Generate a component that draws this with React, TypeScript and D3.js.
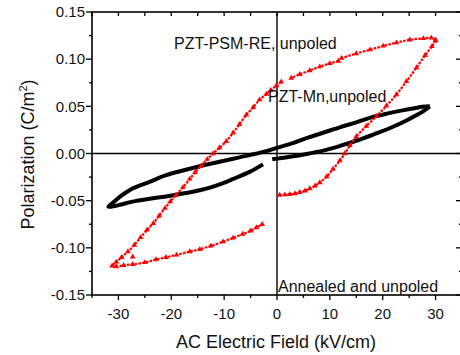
import React from 'react';
import * as d3 from 'd3';

type Pt = [number, number];

// PZT-PSM-RE (red triangles), segments as measured
const redRise: Pt[] = [
  [0.5, -0.044], [1.5, -0.0437], [2.4, -0.0432], [3.4, -0.0424], [4.3, -0.0412], [5.3, -0.0395],
  [6.2, -0.0372], [7.2, -0.0343], [8.1, -0.0308], [9.4, -0.0245], [10.6, -0.0165], [11.9, -0.0075],
  [12.8, 0.0], [13.8, 0.0085], [15.0, 0.018], [16.9, 0.029], [18.8, 0.0395], [20.7, 0.0505],
  [22.6, 0.0625], [24.5, 0.0765], [26.4, 0.091], [28.0, 0.104], [29.3, 0.1135], [30.0, 0.1195],
];
const redTopA: Pt[] = [
  [30.0, 0.1205], [29.2, 0.1225], [27.7, 0.122], [25.1, 0.1205], [22.6, 0.1175], [20.1, 0.114],
  [17.6, 0.110], [15.0, 0.106], [12.2, 0.101],
];
const redTopB: Pt[] = [
  [11.6, 0.098], [10.0, 0.0955], [8.1, 0.092], [6.2, 0.088], [4.3, 0.084], [2.7, 0.080],
];
const redFall: Pt[] = [
  [0.8, 0.076], [-0.1, 0.072], [-1.2, 0.067], [-2.0, 0.063], [-3.3, 0.057], [-4.5, 0.049],
  [-5.8, 0.041], [-7.1, 0.031], [-8.3, 0.022], [-9.6, 0.013], [-10.9, 0.006], [-12.1, 0.0],
  [-13.2, -0.006], [-14.3, -0.013], [-15.5, -0.020], [-16.5, -0.027], [-17.8, -0.036],
  [-19.1, -0.044], [-20.2, -0.051], [-21.2, -0.058], [-22.3, -0.066], [-23.4, -0.074],
  [-24.6, -0.081], [-25.8, -0.089], [-27.0, -0.097], [-28.2, -0.104], [-29.4, -0.110],
  [-30.4, -0.115], [-31.2, -0.119],
  [-30.4, -0.1198], [-29.0, -0.1185], [-27.3, -0.1175], [-25.0, -0.1155], [-22.9, -0.1125],
  [-21.0, -0.110], [-19.0, -0.1075], [-16.5, -0.104], [-14.6, -0.1015], [-12.5, -0.098],
  [-10.2, -0.0935], [-8.3, -0.0895], [-6.5, -0.0855], [-5.0, -0.082], [-3.9, -0.0785],
  [-2.8, -0.075],
];
const redStray: Pt[] = [[-27.3, -0.1095]];

// PZT-Mn (black squares)
const blackRise: Pt[] = [
  [-0.9, -0.0062], [0.5, -0.005], [2.4, -0.0035], [5.6, -0.0005], [8.7, 0.003], [11.9, 0.008],
  [15.0, 0.0135], [18.2, 0.020], [21.4, 0.027], [24.5, 0.035], [26.5, 0.041], [27.7, 0.045],
  [28.9, 0.050],
];
const blackReturn: Pt[] = [
  [28.9, 0.050], [27.5, 0.0495], [26.0, 0.048], [24.0, 0.046], [21.0, 0.0425], [18.0, 0.0385],
  [15.0, 0.033], [12.0, 0.028], [9.0, 0.0225], [6.0, 0.017], [3.0, 0.011], [0.0, 0.006],
  [-2.0, 0.0025], [-5.0, -0.0015], [-8.3, -0.0055], [-11.5, -0.0095], [-14.6, -0.0135],
  [-17.8, -0.018], [-21.0, -0.023], [-24.1, -0.030], [-27.3, -0.037], [-29.5, -0.045],
  [-31.0, -0.052], [-31.9, -0.0565],
  [-31.0, -0.056], [-29.8, -0.0545], [-27.3, -0.051], [-24.1, -0.048], [-21.0, -0.0455],
  [-17.8, -0.0425], [-14.6, -0.039], [-11.5, -0.034], [-8.3, -0.027], [-5.2, -0.0195],
  [-2.65, -0.0115],
];

const xTickLabels = [-30, -20, -10, 0, 10, 20, 30];
const xMinorTicks = [-35, -25, -15, -5, 5, 15, 25, 35];
const yTickLabels = [-0.15, -0.1, -0.05, 0, 0.05, 0.1, 0.15];
const yMinorTicks = [-0.125, -0.075, -0.025, 0.025, 0.075, 0.125];

const annotations = [
  { text: 'PZT-PSM-RE, unpoled', x: 174, y: 49 },
  { text: 'PZT-Mn,unpoled', x: 268, y: 102 },
  { text: 'Annealed and unpoled', x: 278, y: 292 },
];

const FONT = '"Liberation Sans", Arial, Helvetica, sans-serif';

export default function App() {
  const L = 92, R = 462, T = 12, B = 295;
  const x = d3.scaleLinear().domain([-35, 35]).range([L, R]);
  const y = d3.scaleLinear().domain([-0.15, 0.15]).range([B, T]);
  const line = d3.line<Pt>().x(d => x(d[0])).y(d => y(d[1])).curve(d3.curveCatmullRom);
  const tri = d3.symbol().type(d3.symbolTriangle).size(14)() as string;
  const redSegs = [redRise, redTopA, redTopB, redFall];
  const redPts = [...redRise, ...redTopA, ...redTopB, ...redFall, ...redStray];

  return (
    <svg width={460} height={355} style={{ position: 'absolute', left: 0, top: 0, background: '#fff' }}
      fontFamily={FONT}>
      <rect x={0} y={0} width={460} height={355} fill="#fff" />
      {/* zero lines */}
      <line x1={L} x2={R} y1={y(0)} y2={y(0)} stroke="#000" strokeWidth={1.4} />
      <line x1={x(0)} x2={x(0)} y1={T} y2={B} stroke="#000" strokeWidth={1.4} />

      {/* black loop */}
      {[blackRise, blackReturn].map((seg, i) => (
        <path key={'b' + i} d={line(seg) || ''} fill="none" stroke="#000" strokeWidth={4} strokeLinejoin="round" />
      ))}

      {/* red loop */}
      {redSegs.map((seg, i) => (
        <path key={'r' + i} d={line(seg) || ''} fill="none" stroke="#f00" strokeWidth={2.2}
          strokeDasharray="2.6 1.2" />
      ))}
      {redPts.map((p, i) => (
        <path key={'t' + i} d={tri} transform={`translate(${x(p[0])},${y(p[1])})`} fill="#f00" />
      ))}

      {/* frame */}
      <rect x={L} y={T} width={R - L} height={B - T} fill="none" stroke="#000" strokeWidth={1.6} />

      {/* bottom ticks (outward) */}
      {xTickLabels.map(v => (
        <line key={'bx' + v} x1={x(v)} x2={x(v)} y1={B} y2={B + 5} stroke="#000" strokeWidth={1.3} />
      ))}
      {xMinorTicks.map(v => (
        <line key={'bm' + v} x1={x(v)} x2={x(v)} y1={B} y2={B + 3} stroke="#000" strokeWidth={1.3} />
      ))}
      {/* top ticks (inward) */}
      {[...xTickLabels, ...xMinorTicks].map(v => (
        <line key={'tx' + v} x1={x(v)} x2={x(v)} y1={T} y2={T + 4} stroke="#000" strokeWidth={1.3} />
      ))}
      {/* left ticks (outward) */}
      {yTickLabels.map(v => (
        <line key={'ly' + v} x1={L - 6} x2={L} y1={y(v)} y2={y(v)} stroke="#000" strokeWidth={1.3} />
      ))}
      {yMinorTicks.map(v => (
        <line key={'lm' + v} x1={L - 3} x2={L} y1={y(v)} y2={y(v)} stroke="#000" strokeWidth={1.3} />
      ))}
      {/* right ticks (inward) */}
      {yTickLabels.map(v => (
        <line key={'ry' + v} x1={R - 6} x2={R} y1={y(v)} y2={y(v)} stroke="#000" strokeWidth={1.3} />
      ))}
      {yMinorTicks.map(v => (
        <line key={'rm' + v} x1={R - 3} x2={R} y1={y(v)} y2={y(v)} stroke="#000" strokeWidth={1.3} />
      ))}

      {/* tick labels */}
      {xTickLabels.map(v => (
        <text key={'xl' + v} x={x(v)} y={319} fontSize={15} textAnchor="middle" fill="#111">
          {String(v)}
        </text>
      ))}
      {yTickLabels.map(v => (
        <text key={'yl' + v} x={85} y={y(v) + 5.3} fontSize={15} textAnchor="end" fill="#111">
          {d3.format('.2f')(v).replace('−', '-')}
        </text>
      ))}

      {/* axis titles */}
      <text x={(L + R) / 2 - 1} y={348} fontSize={18} textAnchor="middle" fill="#111">
        AC Electric Field (kV/cm)
      </text>
      <text transform={`translate(34,${(T + B) / 2 + 1}) rotate(-90)`} fontSize={18} textAnchor="middle" fill="#111">
        Polarization (C/m<tspan dy={-7} fontSize={11}>2</tspan><tspan dy={7}>)</tspan>
      </text>

      {/* annotations */}
      {annotations.map(a => (
        <text key={a.text} x={a.x} y={a.y} fontSize={16} fill="#111">{a.text}</text>
      ))}
    </svg>
  );
}
